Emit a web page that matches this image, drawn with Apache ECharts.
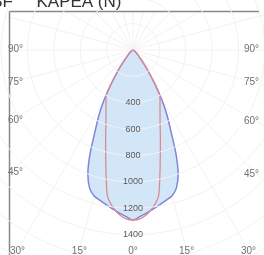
<!DOCTYPE html>
<html>
<head>
<meta charset="utf-8">
<script src="https://cdn.jsdelivr.net/npm/echarts@6/dist/echarts.min.js"></script>
<style>
  html, body { margin: 0; padding: 0; background: #fff; }
  #myChart { width: 264px; height: 255px; }
</style>
</head>
<body>
<div id="myChart"></div>
<script>
// 角度（从正下方 0° 起算），两侧对称
const thetas = [0, 2.5, 5, 7.5, 10, 12.5, 15, 17.5, 20, 22.5, 25, 27.5, 30, 32.5, 35, 37.5, 40, 42.5, 45, 50, 55, 60];
// C0-C180 平面（蓝）
const planeBlue = [1288, 1262, 1237, 1212, 1188, 1165, 1143, 1095, 1000, 850, 680, 560, 440, 320, 220, 150, 100, 70, 50, 30, 15, 0];
// C90-C270 平面（红）
const planeRed = [1288, 1278, 1247, 1195, 1120, 945, 800, 690, 600, 535, 484, 443, 409, 320, 220, 150, 100, 70, 50, 30, 15, 0];
const radiusLabels = [400, 600, 800, 1000, 1200, 1400];
const sideAngles = [90, 75, 60, 45];   // 左右两侧的角度标注
const bottomAngles = [30, 15, 0];      // 底部的角度标注
const titleText = '3F     KAPEA (N)';

// 图框与极坐标原点
const cx = 133, cy = 50;
const boxL = 10, boxT = 12, boxR = 258, boxB = 250;
const rMax = 1800;
const pxPerUnit = 0.132;

// 左侧用 θ，右侧用 360-θ，闭合成一条曲线
const toCurve = (vals) => {
  const left = thetas.map((t, i) => [vals[i], t]).reverse();
  const right = thetas.map((t, i) => [vals[i], (360 - t) % 360]);
  return left.concat(right);
};

const labelStyle = { fontSize: 10, fill: '#707070', fontFamily: 'Liberation Sans' };
const angleTexts = [];
sideAngles.forEach(a => {
  const rad = a * Math.PI / 180;
  const yl = cy + (cx - boxL) / Math.sin(rad) * Math.cos(rad);
  const yr = cy + (boxR - cx) / Math.sin(rad) * Math.cos(rad);
  angleTexts.push({ type: 'text', x: boxL - 2, y: yl - 1, z: 20,
    style: Object.assign({ text: a + '°', align: 'left', verticalAlign: 'middle' }, labelStyle) });
  angleTexts.push({ type: 'text', x: boxR + 1, y: yr - 1, z: 20,
    style: Object.assign({ text: a + '°', align: 'right', verticalAlign: 'middle' }, labelStyle) });
});
bottomAngles.forEach(a => {
  const dx = (boxB - cy) * Math.tan(a * Math.PI / 180);
  const xs = a === 0 ? [cx] : [cx - dx, cx + dx];
  xs.forEach(x => {
    angleTexts.push({ type: 'text', x: x, y: boxB + 1, z: 20,
      style: Object.assign({ text: a + '°', align: 'center', verticalAlign: 'middle' }, labelStyle) });
  });
});

const option = {
  animation: false,
  polar: {
    center: [cx, cy],
    radius: rMax * pxPerUnit
  },
  angleAxis: {
    type: 'value',
    min: 0,
    max: 360,
    interval: 15,
    startAngle: 270,
    clockwise: true,
    axisLine: { show: false },
    axisTick: { show: false },
    axisLabel: { show: false },
    splitLine: { lineStyle: { color: '#f2f2f2', width: 1 } }
  },
  radiusAxis: {
    min: 0,
    max: rMax,
    interval: 200,
    z: 10,
    axisLine: { show: false },
    axisTick: { show: false },
    axisLabel: {
      margin: 0,
      align: 'center',
      verticalAlign: 'middle',
      fontSize: 9,
      color: '#5a5a5a',
      fontFamily: 'Liberation Sans',
      formatter: v => radiusLabels.includes(v) ? String(v) : ''
    },
    splitLine: { lineStyle: { color: '#f2f2f2', width: 1 } }
  },
  series: [
    {
      type: 'line',
      coordinateSystem: 'polar',
      data: toCurve(planeBlue),
      symbol: 'none',
      smooth: 0.2,
      lineStyle: { color: '#8284d8', width: 1.5 },
      areaStyle: { color: '#d3e6f8', opacity: 1 },
      z: 2
    },
    {
      type: 'line',
      coordinateSystem: 'polar',
      data: toCurve(planeRed),
      symbol: 'none',
      smooth: 0.2,
      lineStyle: { color: '#d98a92', width: 1.3 },
      z: 3
    }
  ],
  graphic: [
    // 图框外遮挡
    { type: 'rect', shape: { x: 0, y: 0, width: boxL, height: 255 }, style: { fill: '#fff' }, z: 5 },
    { type: 'rect', shape: { x: 0, y: 0, width: 264, height: boxT }, style: { fill: '#fff' }, z: 5 },
    { type: 'line', shape: { x1: boxL - 0.5, y1: boxT - 0.5, x2: 259, y2: boxT - 0.5 }, style: { stroke: '#888', lineWidth: 1.5 }, z: 6 },
    { type: 'line', shape: { x1: boxL - 0.5, y1: boxT - 0.5, x2: boxL - 0.5, y2: 255 }, style: { stroke: '#888', lineWidth: 1.5 }, z: 6 },
    { type: 'text', x: -7, y: 11, z: 20,
      style: { text: titleText, fontSize: 17, fill: '#333', fontFamily: 'Liberation Sans', align: 'left', verticalAlign: 'bottom' } }
  ].concat(angleTexts)
};

const myChart = echarts.init(document.getElementById('myChart'), null, { renderer: 'canvas' });
myChart.setOption(option);
</script>
</body>
</html>
